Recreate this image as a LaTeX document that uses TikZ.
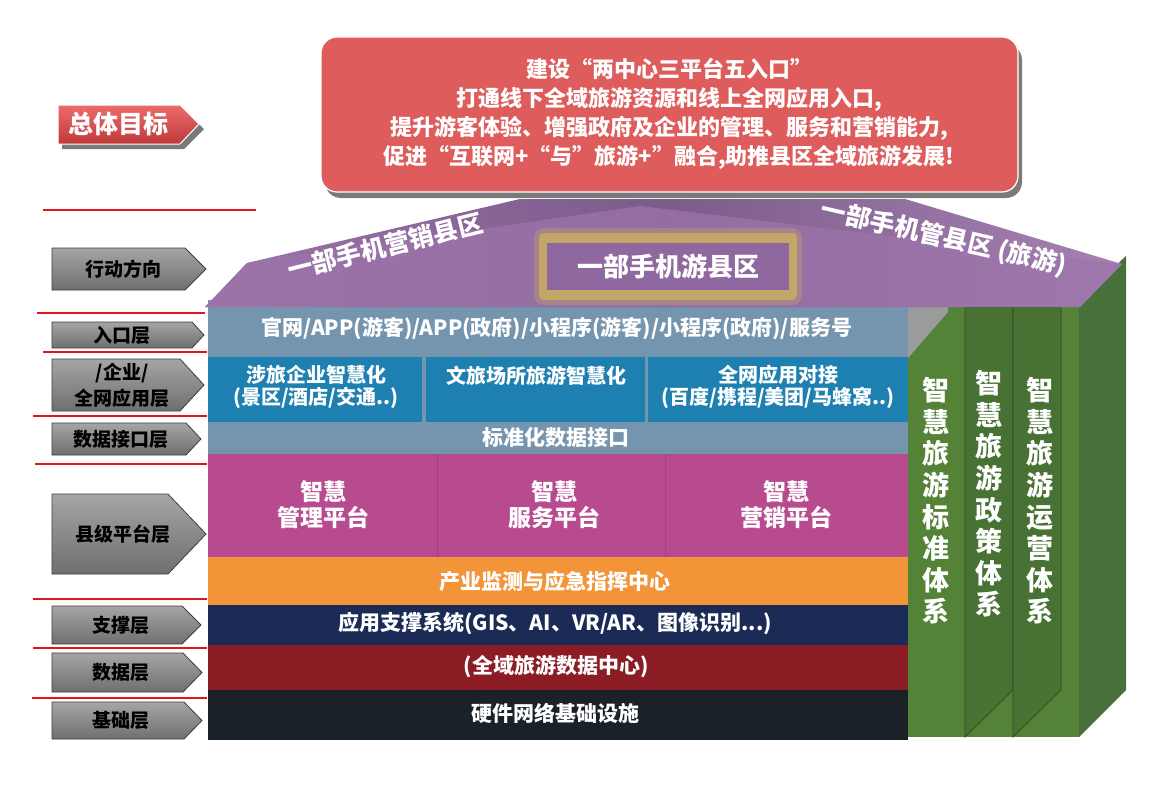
\documentclass[tikz,border=0pt]{standalone}
\usepackage{fontspec}
\setmainfont{Noto Sans CJK SC}
\definecolor{titlered}{HTML}{DE5D5C}
\definecolor{tshadow}{HTML}{7A7A7A}
\definecolor{tagtop}{HTML}{EC6C6A}
\definecolor{tagbot}{HTML}{C0393B}
\definecolor{labtop}{HTML}{A5A5A5}
\definecolor{labbot}{HTML}{6F6F6F}
\definecolor{labedge}{HTML}{3E3E3E}
\definecolor{redln}{HTML}{E3141B}
\definecolor{entry}{HTML}{7594AD}
\definecolor{layerblue}{HTML}{1E80B1}
\definecolor{plat}{HTML}{B84B90}
\definecolor{platln}{HTML}{A04480}
\definecolor{orng}{HTML}{F29437}
\definecolor{navy}{HTML}{1B2B55}
\definecolor{dred}{HTML}{8B1C24}
\definecolor{blk}{HTML}{1B2129}
\definecolor{glight}{HTML}{548236}
\definecolor{gdark}{HTML}{487234}
\definecolor{gedge}{HTML}{2E4A22}
\definecolor{gside}{HTML}{47703A}
\definecolor{roofa}{HTML}{9C74AA}
\definecolor{roofb}{HTML}{7C5B8A}
\definecolor{glow}{HTML}{C8AA66}
\definecolor{cbox}{HTML}{8F68A0}
\definecolor{sidegray}{HTML}{9B9B9B}
\tikzset{
 wtxt/.style={text=white, font=\bfseries\fontsize{21}{24}\selectfont, align=center, inner sep=0pt},
 labtxt/.style={text=black, font=\bfseries\fontsize{19}{26}\selectfont, align=center, inner sep=0pt},
 coltxt/.style={text=white, font=\bfseries\fontsize{27}{31.6}\selectfont, align=center, inner sep=0pt},
 rooftxt/.style={text=white, font=\bfseries\fontsize{25}{28}\selectfont, inner sep=0pt},
 redline/.style={draw=redln, line width=2pt},
 labshape/.style={top color=labtop, bottom color=labbot, draw=labedge, line width=0.8pt},
}
\newcommand\glabel[7]{%
 \shade[labshape] (#2,#3) -- (#5,#3) -- (#6,{(#3+#4)/2}) -- (#5,#4) -- (#2,#4) -- cycle;
 \node[labtxt] (#1) at ({(#2+#6)/2-6},{(#3+#4)/2}) {#7};
}
\begin{document}
\begin{tikzpicture}[x=1pt,y=-1pt]
\useasboundingbox (0,0) rectangle (1168,792);
\fill[white] (0,0) rectangle (1168,792);

% green side block
\fill[gside] (1079,300) -- (1126,256) -- (1126,690) -- (1079,737) -- cycle;
\fill[glight] (908,300) rectangle (1079,737);
\filldraw[fill=gdark, draw=gedge, line width=0.7pt] (965,307) -- (1013,307) -- (1013,690) -- (965,737) -- cycle;
\filldraw[fill=gdark, draw=gedge, line width=0.7pt] (1013,307) -- (1061,307) -- (1061,690) -- (1013,737) -- cycle;

% stack layers
\fill[entry] (208,300) rectangle (908,454);
\fill[layerblue] (208,357) rectangle (422,422);
\fill[layerblue] (426,357) rectangle (645,422);
\fill[layerblue] (648,357) rectangle (908,422);
\fill[plat] (208,454) rectangle (908,557);
\draw[platln] (437,454) -- (437,557);
\draw[platln] (665,454) -- (665,557);
\fill[orng] (208,557) rectangle (908,605);
\fill[navy] (208,605) rectangle (908,645);
\fill[dred] (208,645) rectangle (908,690);
\fill[blk] (208,690) rectangle (908,740);
\fill[sidegray] (908,300) -- (948,300) -- (948,312) -- (908,358) -- cycle;

% roof
\shade[left color=roofa, right color=roofa!90!white, middle color=roofb] (205,307) -- (247,263) -- (520,199) -- (905,199) -- (1122,264) -- (1080,307) -- cycle;
\fill[roofa, opacity=0.75] (205,307) -- (247,263) -- (640,206) -- (1122,264) -- (1080,307) -- cycle;

% title
\fill[tshadow, rounded corners=16pt] (325,44) rectangle (1022,198);
\filldraw[fill=titlered, draw=white, line width=1.2pt, rounded corners=16pt] (321,37) rectangle (1018,192);
\node[wtxt, font=\bfseries\fontsize{22}{29}\selectfont] (goal) at (669,114) {建设“两中心三平台五入口”\\打通线下全域旅游资源和线上全网应用入口,\\提升游客体验、增强政府及企业的管理、服务和营销能力,\\促进“互联网+“与”旅游+”融合,助推县区全域旅游发展!};

% tag
\fill[tshadow] (62,110) -- (184,110) -- (204,129) -- (184,149) -- (62,149) -- cycle;
\shade[top color=tagtop, bottom color=tagbot, draw=white, line width=1pt] (58,105) -- (180,105) -- (199,124) -- (180,144) -- (58,144) -- cycle;
\node[text=white, font=\bfseries\fontsize{25}{28}\selectfont, inner sep=0pt] (tag) at (118,124) {总体目标};

% centre box
\fill[glow, opacity=0.35, rounded corners=10pt] (534,228) rectangle (802,305);
\fill[glow, opacity=0.9, rounded corners=5pt] (539,233) rectangle (797,300);
\fill[cbox] (547,243) rectangle (789,290);
\node[rooftxt, font=\bfseries\fontsize{26}{28}\selectfont] (mobile) at (668,266) {一部手机游县区};
\node[rooftxt, rotate=14] (mkt) at (385,246) {一部手机营销县区};
\node[rooftxt, rotate=-13] (mgmt) at (944,238) {一部手机管县区 (旅游)};

% layer texts
\node[wtxt] (entrytxt) at (557,329) {官网/APP(游客)/APP(政府)/小程序(游客)/小程序(政府)/服务号};
\node[wtxt, font=\bfseries\fontsize{20}{22}\selectfont] (ent1) at (316,387) {涉旅企业智慧化\\(景区/酒店/交通..)};
\node[wtxt, font=\bfseries\fontsize{20}{22}\selectfont] (ent2) at (536,376) {文旅场所旅游智慧化};
\node[wtxt, font=\bfseries\fontsize{20}{22}\selectfont] (ent3) at (778,387) {全网应用对接\\(百度/携程/美团/马蜂窝..)};
\node[wtxt] (iface) at (556,438) {标准化数据接口};
\node[wtxt, font=\bfseries\fontsize{23}{26}\selectfont] (p1) at (323,505) {智慧\\管理平台};
\node[wtxt, font=\bfseries\fontsize{23}{26}\selectfont] (p2) at (554,505) {智慧\\服务平台};
\node[wtxt, font=\bfseries\fontsize{23}{26}\selectfont] (p3) at (786,505) {智慧\\营销平台};
\node[wtxt] (monitor) at (555,582) {产业监测与应急指挥中心};
\node[wtxt] (support) at (555,624) {应用支撑系统(GIS、AI、VR/AR、图像识别...)};
\node[wtxt] (datac) at (556,667) {(全域旅游数据中心)};
\node[wtxt] (infra) at (555,713) {硬件网络基础设施};

% column texts
\node[coltxt] (c1) at (936,501) {智\\慧\\旅\\游\\标\\准\\体\\系};
\node[coltxt] (c2) at (989,494) {智\\慧\\旅\\游\\政\\策\\体\\系};
\node[coltxt] (c3) at (1040,501) {智\\慧\\旅\\游\\运\\营\\体\\系};

% red separator lines
\draw[redline] (43,210) -- (256,210);
\draw[redline] (37,313) -- (205,313);
\draw[redline] (43,352) -- (207,352);
\draw[redline] (33,416) -- (207,416);
\draw[redline] (35,464) -- (207,464);
\draw[redline] (33,599) -- (207,599);
\draw[redline] (33,648) -- (207,648);
\draw[redline] (32,698) -- (207,698);

% layer labels
\glabel{l1}{52}{248}{290}{185}{206}{行动方向}
\glabel{l2}{52}{322}{348}{192}{204}{入口层}
\glabel{l3}{52}{359}{411}{180}{204}{/企业/\\全网应用层}
\glabel{l4}{52}{423}{455}{186}{201}{数据接口层}
\glabel{l5}{52}{494}{574}{168}{206}{县级平台层}
\glabel{l6}{52}{606}{644}{182}{201}{支撑层}
\glabel{l7}{52}{653}{692}{183}{202}{数据层}
\glabel{l8}{52}{702}{739}{184}{202}{基础层}
\end{tikzpicture}
\end{document}
